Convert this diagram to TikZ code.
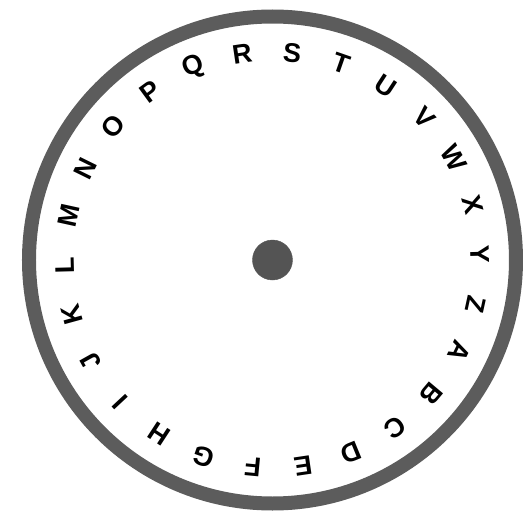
\documentclass[tikz,border=0pt]{standalone}
\usepackage{fontspec}
\setsansfont{Liberation Sans}
\begin{document}
\begin{tikzpicture}[x=1pt,y=1pt]
  \useasboundingbox (-272.5,-252) rectangle (250.5,260);
  % rim of the wheel
  \draw[line width=14pt,black!64] (0,0) circle (243.5pt);
  % hub in the middle
  \filldraw[black!67] (0,0) circle (20pt);
  % alphabet round the rim, tops pointing outward
  \foreach \ch [count=\k from 0] in {A,B,C,D,E,F,G,H,I,J,K,L,M,N,O,P,Q,R,S,T,U,V,W,X,Y,Z} {
    \pgfmathsetmacro{\ang}{91.5+(17.5-\k)*13.846}
    \node[rotate=\ang-90,font=\sffamily\bfseries\fontsize{27}{27}\selectfont,inner sep=0pt]
      (let\k) at (\ang:208pt) {\ch};
  }
\end{tikzpicture}
\end{document}
